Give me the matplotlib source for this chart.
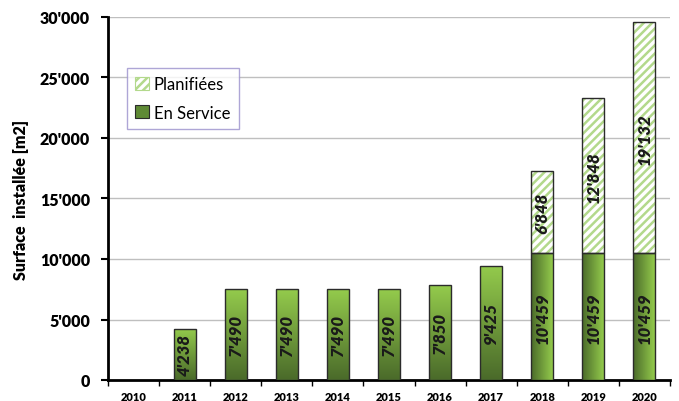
import numpy as np
import matplotlib.pyplot as plt
from matplotlib.patches import Patch
from matplotlib.colors import LinearSegmentedColormap

plt.rcParams['font.family'] = ['Lato', 'DejaVu Sans']
plt.rcParams['hatch.linewidth'] = 1.8

years = ["2010", "2011", "2012", "2013", "2014", "2015", "2016", "2017", "2018", "2019", "2020"]
en_service = [0, 4238, 7490, 7490, 7490, 7490, 7850, 9425, 10459, 10459, 10459]
planifiees = [0, 0, 0, 0, 0, 0, 0, 0, 6848, 12848, 19132]
yticks = [0, 5000, 10000, 15000, 20000, 25000, 30000]


def fmt(v):
    return "{:,}".format(v).replace(",", "'")


dark = "#4a6a2a"
light = "#94cb4c"
cmap = LinearSegmentedColormap.from_list("grn", [dark, light])
hatch_col = "#b3d98c"
edge = "#2b2b2b"

fig = plt.figure(figsize=(6.79, 4.02), dpi=100)
ax = fig.add_axes([108 / 679, 21 / 402, 562 / 679, 363 / 402])

x = np.arange(len(years))
w = 0.43
grad = np.linspace(0, 1, 256)

for i in x:
    v = en_service[i]
    if v > 0:
        bar = ax.bar(i, v, w, color="none", edgecolor=edge, lw=1.0, zorder=4)[0]
        x0, x1 = i - w / 2, i + w / 2
        if planifiees[i] > 0:
            img = grad.reshape(1, -1)  # left dark -> right light
        else:
            img = grad[::-1].reshape(-1, 1)  # top light -> bottom dark
        im = ax.imshow(img, cmap=cmap, extent=[x0, x1, 0, v], aspect="auto",
                       origin="upper", zorder=3)
        im.set_clip_path(bar)
        ax.text(i, v / 2, fmt(v), rotation=90, ha="center", va="center",
                fontsize=12, fontweight="heavy", fontstyle="italic", color="#1a1a1a", zorder=5)
    p = planifiees[i]
    if p > 0:
        ax.bar(i, p, w, bottom=v, color="white", edgecolor=hatch_col, hatch="////", lw=0, zorder=3)
        ax.bar(i, p, w, bottom=v, fill=False, edgecolor=edge, lw=1.0, zorder=4)
        ax.text(i, v + p / 2, fmt(p), rotation=90, ha="center", va="center",
                fontsize=12, fontweight="heavy", fontstyle="italic", color="#1a1a1a", zorder=5)

ax.set_xlim(-0.5, len(years) - 0.5)
ax.set_ylim(0, 30000)
ax.set_yticks(yticks)
ax.set_yticklabels([fmt(t) for t in yticks], fontsize=11.5, fontweight="heavy")
ax.yaxis.grid(True, color="#bfbfbf", lw=1.0, zorder=0)
ax.set_axisbelow(True)

ax.set_xticks(x)
ax.set_xticklabels(years, fontsize=8, fontweight="heavy")
ax.set_xticks(np.arange(-0.5, len(years) - 0.4, 1), minor=True)
ax.tick_params(axis="x", which="major", length=0, pad=8)
ax.tick_params(axis="x", which="minor", length=4, width=1, direction="out")
ax.tick_params(axis="y", length=5, width=1.5, direction="out", pad=8)

for s in ["top", "right"]:
    ax.spines[s].set_visible(False)
ax.spines["left"].set_linewidth(2)
ax.spines["bottom"].set_linewidth(2)

ax.set_ylabel("Surface  installée [m2]", fontsize=11.5, fontweight="heavy", labelpad=8)

handles = [
    Patch(facecolor="white", edgecolor=hatch_col, hatch="////", lw=0.8, label="Planifiées"),
    Patch(facecolor="#5f8a35", edgecolor=edge, lw=0.8, label="En Service"),
]
leg = ax.legend(handles=handles, loc="upper left", bbox_to_anchor=(0.034, 0.86),
                fontsize=12, frameon=True, fancybox=False, borderpad=0.5,
                handlelength=0.8, handleheight=0.8, handletextpad=0.3, labelspacing=0.75,
                borderaxespad=0)
leg.get_frame().set_edgecolor("#9a90cc")
leg.get_frame().set_linewidth(1.0)

fig.savefig("out.png", dpi=100)
